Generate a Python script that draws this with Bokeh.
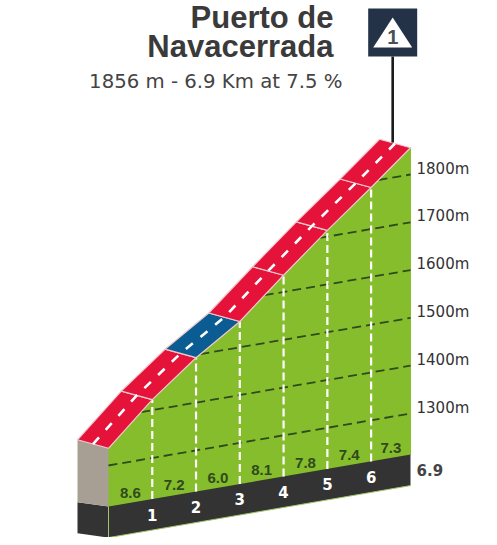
from bokeh.plotting import figure
from bokeh.embed import file_html
from bokeh.resources import INLINE
from bokeh.core.properties import value
import numpy as np

# ---- data
km = [0, 1, 2, 3, 4, 5, 6, 6.9]
altitude = [1336, 1422, 1494, 1554, 1635, 1713, 1787, 1856]
gradients = ["8.6", "7.2", "6.0", "8.1", "7.8", "7.4", "7.3"]
segment_colors = ["#E5123A", "#E5123A", "#0B5C92", "#E5123A", "#E5123A", "#E5123A", "#E5123A"]
km_labels = ["1", "2", "3", "4", "5", "6"]
alt_ticks = [1300, 1400, 1500, 1600, 1700, 1800]
alt_labels = ["1300m", "1400m", "1500m", "1600m", "1700m", "1800m"]
base_alt = 1214
title_lines = ["Puerto de", "Navacerrada"]
subtitle = "1856 m - 6.9 Km at 7.5 %"
total_label = "6.9"
badge = "1"

# ---- projection: oblique view, the baseline climbs towards the right
W, H = 489, 537
PX_KM, PX_M, PX_SKEW = 43.77, 0.478, 7.536
def px_x(px): return (px - 108) / PX_KM
def px_y(py): return 1800 - (py - 174) / PX_M
def Y(k, a): return np.asarray(a, float) - (6.9 - np.asarray(k, float)) * PX_SKEW / PX_M

DX = -31 / PX_KM           # depth of road and block
DY = 8.5 / PX_M
BAND = 31 / PX_M           # height of dark base

p = figure(width=W, height=H, x_range=(px_x(0), px_x(W)), y_range=(px_y(H), px_y(0)),
           output_backend="svg", toolbar_location=None, min_border=0,
           background_fill_color="white", outline_line_color=None)
p.axis.visible = False
p.grid.visible = False

k = np.array(km, float)
a = np.array(altitude, float)
front = Y(k, a)
base = Y(k, np.full_like(k, base_alt))

GREEN = "#86BD2C"
DARK = "#333333"
# green wall
p.patch(list(k) + list(k[::-1]), list(front) + list(base[::-1]), fill_color=GREEN, line_color=GREEN)
# dark base
p.patch([k[0], k[-1], k[-1], k[0]], [base[0], base[-1], base[-1] - BAND, base[0] - BAND],
        fill_color=DARK, line_color=None)
p.line([k[0], k[-1]], [base[0] - BAND, base[-1] - BAND], line_color="#A4C46A", line_width=1)
# left block
dark_shift = 4.3 / PX_M
p.patch([k[0] + DX, k[0], k[0], k[0] + DX],
        [base[0] + dark_shift, base[0], base[0] - BAND, base[0] - BAND + dark_shift],
        fill_color=DARK, line_color=None)
p.patch([k[0] + DX, k[0], k[0], k[0] + DX],
        [front[0] + DY, front[0], base[0], base[0] + dark_shift],
        fill_color="#A89F94", line_color=None)
p.line([k[0], k[0]], [base[0], base[0] - BAND], line_color="#A4C46A", line_width=1)

# altitude gridlines: from the road edge to the right side
for t in alt_ticks:
    start = float(np.interp(t, a, k))
    p.line([start, k[-1]], [Y(start, t), Y(k[-1], t)], line_color="#2F4A1C",
           line_width=1.8, line_dash="9 5")

# km verticals
for i in range(1, 7):
    p.line([k[i], k[i]], [base[i], front[i]], line_color="white", line_width=2.2, line_dash="8 4")

# road segments
for i, c in enumerate(segment_colors):
    p.patch([k[i], k[i + 1], k[i + 1] + DX, k[i] + DX],
            [front[i], front[i + 1], front[i + 1] + DY, front[i] + DY],
            fill_color=c, line_color="#EFC9CE", line_width=1.2)
# road centre line
p.line(k + DX / 2, front + DY / 2, line_color="white", line_width=2.6, line_dash="9 10")

# pole and badge
pole_x = k[-1] + DX / 2 * 1.15
p.line([pole_x, pole_x], [front[-1] + DY / 2 + 2, px_y(56)], line_color="#1A1A1A", line_width=2.6)
p.rect([pole_x], [px_y(32)], width=49, height=48, width_units="screen", height_units="screen",
       fill_color="#243247", line_color=None)
half = 19.5 / PX_KM
p.patch([pole_x, pole_x + half, pole_x - half], [px_y(17), px_y(47), px_y(47)],
        fill_color="white", line_color=None)
p.text([pole_x], [px_y(36)], text=[badge], text_font=value("Liberation Sans"), text_font_size="20px",
       text_font_style="bold", text_color="#4A4F55", text_align="center", text_baseline="middle")

# labels
F = value("DejaVu Sans")
L = value("Liberation Sans")
mid_k = (k[:-1] + k[1:]) / 2
p.text(mid_k, Y(mid_k, np.full_like(mid_k, base_alt)) + 10 / PX_M, text=gradients, text_font=L,
       text_font_size="15px", text_font_style="bold", text_color="#2F4A1C",
       text_align="center", text_baseline="middle")
p.text(k[1:7], base[1:7] - 15.5 / PX_M, text=km_labels, text_font=F, text_font_size="15px",
       text_font_style="bold", text_color="white", text_align="center", text_baseline="middle")
p.text([px_x(416)] * 6, np.array(alt_ticks) + 6 / PX_M, text=alt_labels, text_font=F,
       text_font_size="15px", text_color="#333333", text_align="left", text_baseline="middle")
p.text([px_x(416)], [px_y(469)], text=[total_label], text_font=F, text_font_size="15px",
       text_font_style="bold", text_color="#444444", text_align="left", text_baseline="middle")

# title
p.text([px_x(333), px_x(333)], [px_y(17), px_y(46)], text=title_lines, text_font=L,
       text_font_size="31px", text_font_style="bold", text_color="#3A3A3A",
       text_align="right", text_baseline="middle")
p.text([px_x(342)], [px_y(81)], text=[subtitle], text_font=F, text_font_size="19.7px",
       text_color="#444444", text_align="right", text_baseline="middle")

open("out.html", "w").write(file_html(p, INLINE))
